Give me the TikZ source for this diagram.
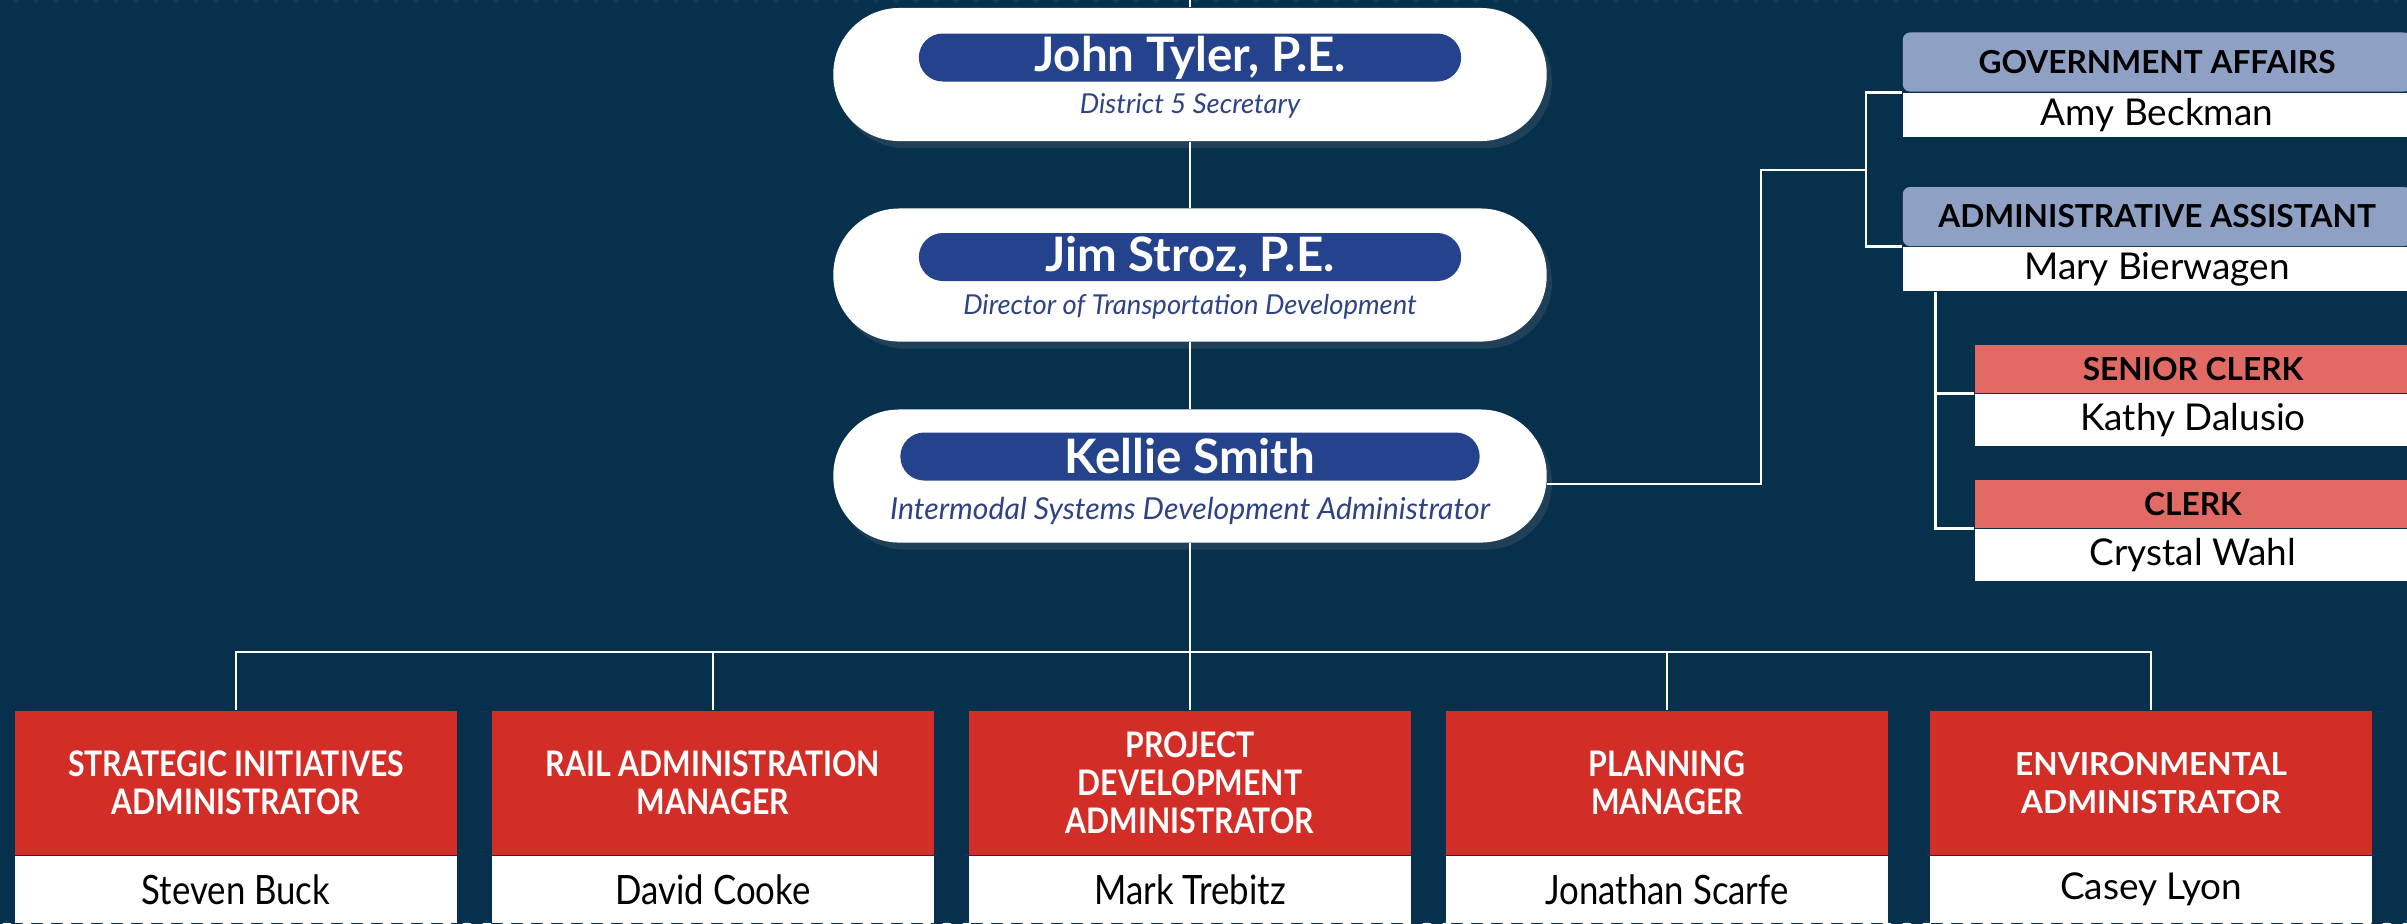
\documentclass[tikz,border=0pt]{standalone}
\usepackage{fontspec}
\setmainfont{Lato}
\newfontfamily\condfont[FakeStretch=0.86]{Lato}
\usepackage{xcolor}
\usetikzlibrary{positioning, shadows}
\definecolor{NightBlue}{HTML}{0D3D5F}
\definecolor{StripeBlue}{HTML}{07304C}
\definecolor{BarBlue}{HTML}{25428C}
\definecolor{TitleBlue}{HTML}{2E4384}
\definecolor{HeadRed}{HTML}{D32D27}
\definecolor{Salmon}{HTML}{E26A64}
\definecolor{Slate}{HTML}{8EA1C5}
\tikzset{
  wire/.style={draw=white, line width=0.75pt},
  pill/.style={fill=white, rounded corners=0.66cm, minimum width=7.13cm, minimum height=1.33cm,
    drop shadow={opacity=0.2, shadow xshift=1.5pt, shadow yshift=-2pt}},
  namebar/.style={fill=BarBlue, text=white, rounded corners=0.24cm, minimum height=0.48cm,
    inner sep=0pt, font=\bfseries\fontsize{13.5}{15}\selectfont},
  subtitle/.style={text=TitleBlue, inner sep=0pt, font=\itshape\fontsize{7.8}{9}\selectfont},
  redhead/.style={fill=HeadRed, text=white, minimum width=4.41cm, minimum height=1.44cm,
    align=center, inner sep=0pt, font=\condfont\bfseries\fontsize{10}{10.8}\selectfont},
  namebox/.style={fill=white, text=black, minimum width=4.41cm, minimum height=0.66cm,
    inner sep=0pt, font=\condfont\fontsize{11.5}{13}\selectfont},
  sidehead/.style={fill=Slate, text=black, rounded corners=2pt, minimum width=5.08cm,
    minimum height=0.59cm, inner sep=0pt, font=\bfseries\fontsize{9}{10}\selectfont},
  sidename/.style={fill=white, text=black, minimum width=5.08cm, minimum height=0.44cm,
    inner sep=0pt, font=\fontsize{10.5}{12}\selectfont},
  clerkhead/.style={fill=Salmon, text=black, minimum width=4.36cm, minimum height=0.48cm,
    inner sep=0pt, font=\bfseries\fontsize{9}{10}\selectfont},
  clerkname/.style={fill=white, text=black, minimum width=4.36cm, minimum height=0.52cm,
    inner sep=0pt, font=\fontsize{10.5}{12}\selectfont}
}

\begin{document}
\begin{tikzpicture}[x=0.01cm, y=-0.01cm]
    \useasboundingbox (0,0) rectangle (2407,923);
    \fill [NightBlue] (0,0) rectangle (2407,923);
    \begin{scope}
        \clip (0,0) rectangle (2407,923);
        \foreach \i in {-940,-920,...,2420}
            \draw [StripeBlue, line width=5pt] (\i,0) -- ++(923,923);
    \end{scope}

    \node [pill] (tyler) at (1190,74.5) {};
    \node [namebar, minimum width=5.42cm] (tylerbar) at (1190,57.5) {John Tyler, P.E.};
    \node [subtitle] (tylersub) at (1190,106) {District 5 Secretary};

    \node [pill] (stroz) at (1190,275) {};
    \node [namebar, minimum width=5.42cm] (strozbar) at (1190,257) {Jim Stroz, P.E.};
    \node [subtitle] (strozsub) at (1190,307) {Director of Transportation Development};

    \node [pill] (smith) at (1190,476) {};
    \node [namebar, minimum width=5.79cm] (smithbar) at (1190,456.5) {Kellie Smith};
    \node [subtitle, font=\itshape\fontsize{8.6}{10}\selectfont] (smithsub) at (1190,511) {Intermodal Systems Development Administrator};

    \node [redhead] (strat) at (236,783) {STRATEGIC INITIATIVES\\ADMINISTRATOR};
    \node [namebox, below=0pt of strat] (stratname) {Steven Buck};
    \node [redhead] (rail) at (713,783) {RAIL ADMINISTRATION\\MANAGER};
    \node [namebox, below=0pt of rail] (railname) {David Cooke};
    \node [redhead] (proj) at (1190,783) {PROJECT\\DEVELOPMENT\\ADMINISTRATOR};
    \node [namebox, below=0pt of proj] (projname) {Mark Trebitz};
    \node [redhead] (plan) at (1667,783) {PLANNING\\MANAGER};
    \node [namebox, below=0pt of plan] (planname) {Jonathan Scarfe};
    \node [redhead, font=\bfseries\fontsize{9}{10.8}\selectfont] (envir) at (2151,783) {ENVIRONMENTAL\\ADMINISTRATOR};
    \node [namebox, font=\fontsize{10.5}{12}\selectfont, below=0pt of envir] (envirname) {Casey Lyon};

    \node [sidehead] (gahead) at (2157,62) {GOVERNMENT AFFAIRS};
    \node [sidename, below=0pt of gahead] (ganame) {Amy Beckman};
    \node [sidehead] (aahead) at (2157,216.5) {ADMINISTRATIVE ASSISTANT};
    \node [sidename, below=0pt of aahead] (aaname) {Mary Bierwagen};
    \node [clerkhead] (srhead) at (2193,369) {SENIOR CLERK};
    \node [clerkname, below=0pt of srhead] (srname) {Kathy Dalusio};
    \node [clerkhead] (clhead) at (2193,504) {CLERK};
    \node [clerkname, below=0pt of clhead] (clname) {Crystal Wahl};

    \coordinate (topend) at (1190,0);
    \coordinate (bus) at (1190,652);
    \coordinate (elbow) at (1761,170);
    \coordinate (spine) at (1866,170);
    \coordinate (drop) at ([xshift=0.33cm]aaname.south west);

    \draw [wire] (topend) -- (tyler.north);
    \draw [wire] (tyler.south) -- (stroz.north);
    \draw [wire] (stroz.south) -- (smith.north);
    \draw [wire] (smith.south) -- (bus);
    \draw [wire] (strat.north) |- (bus) -| (envir.north);
    \draw [wire] (rail.north) -- (rail.north |- bus);
    \draw [wire] (proj.north) -- (bus);
    \draw [wire] (plan.north) -- (plan.north |- bus);
    \draw [wire] ([yshift=-0.08cm]smith.east) -| (elbow) -- (spine);
    \draw [wire] (gahead.south west) -| (spine) |- (aahead.south west);
    \draw [wire] (drop) |- (srhead.south west);
    \draw [wire] (drop) |- (clhead.south west);
\end{tikzpicture}
\end{document}
